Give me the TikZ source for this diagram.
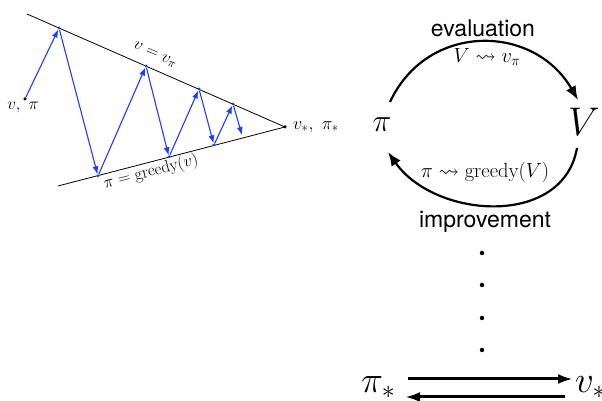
\RequirePackage{fix-cm}
\documentclass[tikz,border=0pt]{standalone}
\usepackage{amsmath,amssymb}
\usepackage{fontspec}
\setsansfont{TeX Gyre Heros}
\usetikzlibrary{arrows.meta,positioning,calc}
\definecolor{zigblue}{RGB}{30,60,255}

\begin{document}
\begin{tikzpicture}[
  x=1pt,y=1pt,
  edge/.style={line width=0.8pt},
  zig/.style={zigblue, line width=1.1pt, -{Latex[length=8pt,width=6pt]}},
  vtx/.style={circle, fill=zigblue, inner sep=0pt, minimum size=3pt},
  endpt/.style={circle, fill=black, inner sep=0pt, minimum size=3.5pt},
  lbl/.style={font=\fontsize{17}{17}\selectfont, inner sep=1pt},
  bigpi/.style={font=\fontsize{32}{32}\selectfont, inner sep=0pt},
  bigV/.style={font=\fontsize{40}{40}\selectfont, inner sep=0pt},
  bigs/.style={font=\fontsize{37}{37}\selectfont, inner sep=0pt, anchor=base west},
  word/.style={font=\fontsize{23}{23}\selectfont\sffamily, inner sep=0pt},
  mlbl/.style={font=\fontsize{20.5}{20.5}\selectfont, inner sep=0pt},
  arr/.style={-{Latex[length=14pt,width=11pt]}, line width=2.2pt},
  barr/.style={-{Latex[length=15pt,width=10pt]}, line width=3pt},
  vdot/.style={circle, fill=black, inner sep=0pt, minimum size=4.5pt}
]
\useasboundingbox (0,0) rectangle (602,401);

% left: zig-zag between the two lines
\coordinate (ua) at (27,387);
\coordinate (la) at (58,215);
\node[endpt] (apex) at (285,274) {};
\node[endpt] (s0) at (25,302) {};
\draw[edge] (ua) -- (apex.center) -- (la);

\node[vtx] (u1) at (59,373) {};
\node[vtx] (u2) at (146,335) {};
\node[vtx] (u3) at (199,312) {};
\node[vtx] (u4) at (233,297) {};
\node[vtx] (l1) at (98,225) {};
\node[vtx] (l2) at (169,244) {};
\node[vtx] (l3) at (214,256) {};
\coordinate (e4) at (242,266);

\foreach \a/\b in {s0/u1,u1/l1,l1/u2,u2/l2,l2/u3,u3/l3,l3/u4,u4/e4}
  \draw[zig] (\a) -- (\b);

\node[lbl, below=0pt of s0, xshift=-2pt] (s0lab) {$v,\ \pi$};
\node[lbl, anchor=west, font=\fontsize{18}{18}\selectfont] (apexlab) at (292,274) {$v_*,\ \pi_*$};
\node[lbl, rotate=-23.6] (uplab) at (155,346) {$v = v_\pi$};
\node[lbl, rotate=14.6] (lowlab) at (151,229) {$\pi = \mathrm{greedy}(v)$};

% right: the cycle
\node[bigpi] (pi) at (382,276) {$\pi$};
\node[bigV] (V) at (584,279) {$V$};
\node[word] (eval) at (483,373) {evaluation};
\node[mlbl] (evlab) at (487,344) {$V \leadsto v_\pi$};
\node[mlbl] (imlab) at (485,229) {$\pi \leadsto \mathrm{greedy}(V)$};
\node[word] (impr) at (485,179) {improvement};
\draw[arr] ([shift={(8,23)}]pi.center) to[out=65,in=120,looseness=1.2] ([shift={(-6,22)}]V.center);
\draw[arr] ([shift={(-7,-26)}]V.center) to[out=-100,in=-55,looseness=1.1] ([shift={(6,-27)}]pi.center);

\foreach \i/\y in {1/148,2/116,3/83,4/51}
  \node[vdot] (d\i) at (482,\y) {};

% bottom: the fixed point
\node[bigs] (pistar) at (361,8) {$\pi_*$};
\node[bigs] (vstar) at (575,8) {$v_*$};
\draw[barr] ([shift={(47,14)}]pistar.base west) -- ([shift={(-2,14)}]vstar.base west);
\draw[barr] ([shift={(-10,-4)}]vstar.base west) -- ([shift={(44,-4)}]pistar.base west);
\end{tikzpicture}
\end{document}
